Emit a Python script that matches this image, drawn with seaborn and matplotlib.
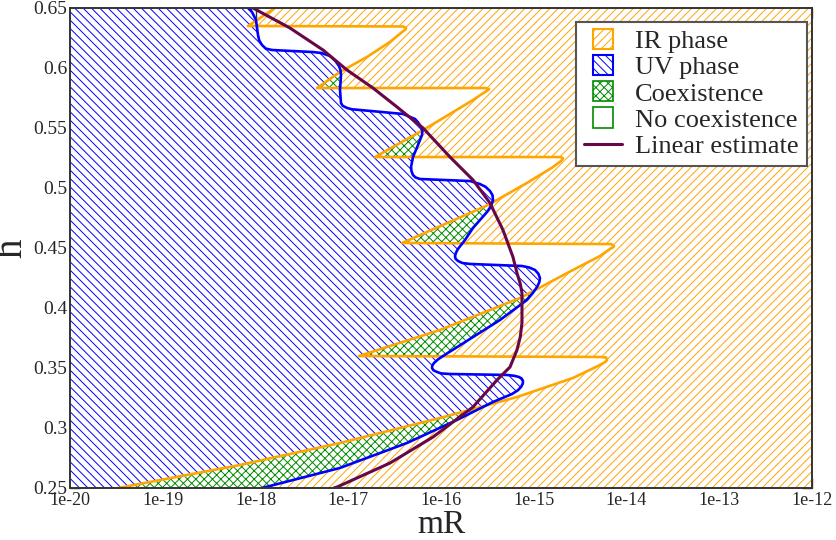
import numpy as np
import matplotlib
matplotlib.use("Agg")
import matplotlib.pyplot as plt
import matplotlib.patches as mpatches
from matplotlib.lines import Line2D
from matplotlib.legend_handler import HandlerPatch
from matplotlib.ticker import FixedLocator, MultipleLocator, FuncFormatter
import seaborn as sns

# boundary of the IR phase (region to the right of it), log10(mR) and h
ir_log_mr = [-19.482, -18.167, -17.089, -16.011, -15.181, -14.577, -14.307, -14.230, -14.210, -14.221, -14.286,
             -16.884, -16.011, -15.148, -14.577, -14.286, -14.178, -14.140, -14.135, -14.167, -14.286,
             -16.420, -15.493, -15.073, -14.792, -14.706, -14.690, -14.685, -14.717,
             -16.712, -16.194, -16.011, -15.655, -15.526, -15.495, -15.482, -15.515,
             -17.337, -17.089, -16.798, -16.550, -16.420, -16.385, -16.377, -16.410,
             -18.081, -17.790]
ir_h = [0.25, 0.2692, 0.2875, 0.3083, 0.3258, 0.3417, 0.3517, 0.3550, 0.3567, 0.3588, 0.3592,
        0.36, 0.3817, 0.4083, 0.4317, 0.4433, 0.4492, 0.4508, 0.4517, 0.4533, 0.4533,
        0.4542, 0.4858, 0.5042, 0.5175, 0.5225, 0.5240, 0.525, 0.5258,
        0.5258, 0.5483, 0.5567, 0.5733, 0.58, 0.5815, 0.5825, 0.5833,
        0.5833, 0.5967, 0.6092, 0.6217, 0.63, 0.6320, 0.6333, 0.6346,
        0.635, 0.65]

# boundary of the UV phase (region to the left of it)
uv_log_mr = [-17.930, -17.089, -16.367, -15.828, -15.439, -15.235, -15.170, -15.137, -15.118, -15.116, -15.130, -15.159, -15.210, -15.288,
             -15.903, -16.000, -16.043, -16.080, -16.097, -16.094, -16.075, -16.035, -15.978, -15.655, -15.364, -15.073, -15.010, -14.965, -14.940, -14.933,
             -14.950, -14.987, -15.050, -15.127, -15.687, -15.770, -15.817, -15.843, -15.849, -15.838, -15.817, -15.741, -15.655, -15.504, -15.460, -15.439,
             -15.445, -15.472, -15.520, -15.580, -15.687, -16.226, -16.275, -16.302, -16.318, -16.323, -16.302, -16.248, -16.205, -16.200, -16.216,
             -16.245, -16.280, -16.410, -16.873, -16.960, -17.013, -17.060, -17.078, -17.089, -17.078, -17.085, -17.100, -17.140, -17.197, -17.290, -17.380,
             -17.822, -17.890, -17.930, -17.960, -17.973, -17.995, -18.038, -18.081]
uv_h = [0.25, 0.2667, 0.2875, 0.3067, 0.3217, 0.3283, 0.3315, 0.3342, 0.3370, 0.3392, 0.3412, 0.3425, 0.3435, 0.3442,
        0.345, 0.3455, 0.3467, 0.3480, 0.35, 0.3520, 0.3542, 0.3570, 0.36, 0.3758, 0.39, 0.4067, 0.4125, 0.4175, 0.4215, 0.425,
        0.4285, 0.4317, 0.4338, 0.435, 0.4367, 0.4375, 0.4392, 0.4410, 0.4433, 0.4462, 0.4492, 0.4567, 0.4667, 0.48, 0.4850, 0.49,
        0.4940, 0.4975, 0.5010, 0.5033, 0.5058, 0.5075, 0.5088, 0.5108, 0.5140, 0.5175, 0.5258, 0.5358, 0.5442, 0.5475, 0.5508,
        0.5545, 0.5575, 0.5617, 0.565, 0.5656, 0.5667, 0.5685, 0.5708, 0.5817, 0.5942, 0.5985, 0.6017, 0.6060, 0.61, 0.6125, 0.6133,
        0.615, 0.6162, 0.6192, 0.6230, 0.6275, 0.64, 0.6467, 0.65]

# linear estimate
lin_log_mr = [-18.027, -17.628, -17.272, -17.013, -16.733, -16.474, -16.194, -15.903, -15.655, -15.472,
              -15.332, -15.224, -15.181, -15.145, -15.127, -15.127, -15.145, -15.181, -15.256, -15.396, -15.655, -16.086,
              -16.550, -17.121, -17.154]
lin_h = [0.65, 0.6333, 0.615, 0.5983, 0.5833, 0.5675, 0.55, 0.5258, 0.5067, 0.4875,
         0.465, 0.4425, 0.4292, 0.4200, 0.4125, 0.3875, 0.3760, 0.365, 0.3508, 0.34, 0.3175, 0.2925,
         0.2708, 0.2508, 0.25]

x_min, x_max = 1e-20, 1e-12
y_min, y_max = 0.25, 0.65
y_ticks = [0.25, 0.3, 0.35, 0.4, 0.45, 0.5, 0.55, 0.6, 0.65]

ORANGE = "#FFA500"
BLUE = "#0000FF"
GREEN = "#008B00"
MAROON = "#670748"

sns.set_theme(style="ticks")
plt.rcParams["font.family"] = ["Liberation Serif", "DejaVu Serif"]
plt.rcParams["hatch.linewidth"] = 0.7

ir_x = 10 ** np.array(ir_log_mr)
uv_x = 10 ** np.array(uv_log_mr)
lin_x = 10 ** np.array(lin_log_mr)

fig = plt.figure(figsize=(8.37, 5.40), dpi=100)
ax = fig.add_axes([70 / 837, 1 - 488 / 540, 742 / 837, 480 / 540])
ax.set_xscale("log")

# regions
ir_poly_x = list(ir_x) + [x_max, x_max]
ir_poly_y = list(ir_h) + [y_max, y_min]
uv_poly_x = list(uv_x) + [x_min, x_min]
uv_poly_y = list(uv_h) + [y_max, y_min]

ir_patch = ax.fill(ir_poly_x, ir_poly_y, facecolor="white", edgecolor=ORANGE,
                   hatch="////", linewidth=0, zorder=1)[0]
ax.fill(uv_poly_x, uv_poly_y, facecolor="white", edgecolor=BLUE,
        hatch="\\\\\\\\", linewidth=0, zorder=2)
coex = ax.fill(uv_poly_x, uv_poly_y, facecolor="white", edgecolor=GREEN,
               hatch="xxxx", linewidth=0, zorder=3)[0]
coex.set_clip_path(ir_patch)

# boundaries
sns.lineplot(x=ir_x, y=ir_h, sort=False, estimator=None, color=ORANGE, lw=1.9, ax=ax, zorder=4)
sns.lineplot(x=uv_x, y=uv_h, sort=False, estimator=None, color=BLUE, lw=1.9, ax=ax, zorder=5)
sns.lineplot(x=lin_x, y=lin_h, sort=False, estimator=None, color=MAROON, lw=2.2, ax=ax, zorder=6)

ax.set_xlim(x_min, x_max)
ax.set_ylim(y_min, y_max)
ax.yaxis.set_major_locator(FixedLocator(y_ticks))
ax.yaxis.set_minor_locator(MultipleLocator(0.025))
ax.yaxis.set_major_formatter(FuncFormatter(lambda v, p: f"{v:g}"))
ax.xaxis.set_major_formatter(FuncFormatter(lambda v, p: f"1e{int(round(np.log10(v)))}"))

ax.tick_params(which="both", direction="in", top=True, right=True, color="#333333")
ax.tick_params(which="major", length=7, width=1.0)
ax.tick_params(which="minor", length=3.5, width=0.8)
ax.tick_params(axis="x", labelsize=13, pad=3)
ax.tick_params(axis="y", labelsize=14, pad=2)
for s in ax.spines.values():
    s.set_linewidth(1.4)
    s.set_color("#333333")
    s.set_zorder(10)

ax.set_xlabel("mR", fontsize=24, labelpad=0)
ax.set_ylabel("h", fontsize=28, labelpad=2)


def square_patch(legend, orig_handle, xdescent, ydescent, width, height, fontsize):
    side = height * 1.1
    return mpatches.Rectangle((width / 2 - side / 2 - xdescent, height / 2 - side / 2 - ydescent),
                              side, side)


handles = [
    mpatches.Patch(facecolor="white", edgecolor=ORANGE, hatch="////", linewidth=1.5),
    mpatches.Patch(facecolor="white", edgecolor=BLUE, hatch="\\\\\\\\", linewidth=1.5),
    mpatches.Patch(facecolor="white", edgecolor=GREEN, hatch="xxxx", linewidth=1.2),
    mpatches.Patch(facecolor="white", edgecolor=GREEN, linewidth=1.2),
    Line2D([], [], color=MAROON, lw=2.2),
]
labels = ["IR phase", "UV phase", "Coexistence", "No coexistence", "Linear estimate"]
leg = ax.legend(handles, labels, loc="upper right", bbox_to_anchor=(0.993, 0.971),
                borderaxespad=0, fontsize=19, labelspacing=0.1, handlelength=1.45,
                handletextpad=0.5, borderpad=0.3, fancybox=False, framealpha=1,
                edgecolor="#555555",
                handler_map={mpatches.Patch: HandlerPatch(patch_func=square_patch)})
leg.get_frame().set_linewidth(1.5)
leg.set_zorder(20)

fig.savefig("out.png", dpi=100)
